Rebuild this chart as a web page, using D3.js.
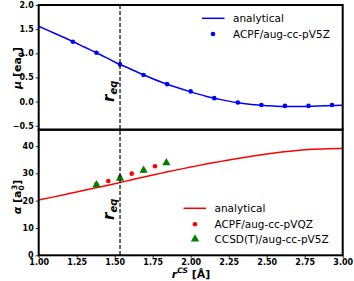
<!DOCTYPE html>
<html><head><meta charset="utf-8">
<script src="https://cdn.jsdelivr.net/npm/d3@7"></script>
<style>body{margin:0;background:#fff}svg{display:block}text{font-family:"DejaVu Sans",sans-serif}</style>
</head><body>
<svg id="c" width="354" height="281"></svg>
<script>
// ---- data ----
const rEq = 1.535;
const xTicks = [1.00, 1.25, 1.50, 1.75, 2.00, 2.25, 2.50, 2.75, 3.00];
const muTicks = [-0.5, 0.0, 0.5, 1.0, 1.5, 2.0];
const alphaTicks = [0, 10, 20, 30, 40];

const muLineR = [1.0,1.1,1.2,1.3,1.4,1.5,1.6,1.7,1.8,1.9,2.0,2.1,2.2,2.3,2.4,2.5,2.6,2.7,2.8,2.9,3.0];
const muLineV = [1.56,1.42,1.28,1.13,0.98,0.82,0.68,0.54,0.41,0.30,0.20,0.11,0.04,-0.02,-0.06,-0.085,-0.10,-0.10,-0.095,-0.085,-0.075];
const muPtsR = [1.225,1.38,1.535,1.69,1.845,2.0,2.155,2.31,2.465,2.62,2.775,2.93];
const muPtsV = [1.24,1.01,0.77,0.55,0.36,0.21,0.07,-0.02,-0.07,-0.09,-0.09,-0.07];

const alLineR = [1.0,1.1,1.2,1.3,1.4,1.5,1.6,1.7,1.8,1.9,2.0,2.1,2.2,2.3,2.4,2.5,2.6,2.7,2.8,2.9,3.0];
const alLineV = [20.3,21.4,22.6,23.8,25.0,26.2,27.5,28.8,30.0,31.2,32.3,33.4,34.4,35.4,36.3,37.1,37.8,38.4,38.8,39.0,39.1];
const acpfR = [1.38,1.458,1.535,1.612,1.69,1.765];
const acpfV = [26.0,27.2,28.6,29.9,31.1,32.6];
const ccsdR = [1.38,1.535,1.69,1.84];
const ccsdV = [25.8,28.2,31.1,33.9];

// ---- layout ----
const svg = d3.select("#c");
const L = 38.7, R = 342.7, T1 = 5, B1 = 129.7, T2 = 129.7, B2 = 255.3;
const x = d3.scaleLinear().domain([1,3]).range([L,R]);
const yMu = d3.scaleLinear().domain([-0.583,2.0]).range([B1,T1]);
const yAl = d3.scaleLinear().domain([0,46]).range([B2,T2]);

function styleAxis(g){
  g.select(".domain").remove();
  g.selectAll(".tick line").attr("stroke","#000").attr("stroke-width",0.8);
  g.selectAll(".tick text").attr("font-size","8px").attr("font-weight","bold").attr("fill","#000")
   .style("font-family","'DejaVu Sans',sans-serif");
}
const minus = d => d3.format(".1f")(d).replace("-","\u2212");

svg.append("g").attr("transform",`translate(${L},0)`)
  .call(d3.axisLeft(yMu).tickValues(muTicks).tickFormat(minus).tickSize(3).tickPadding(2)).call(styleAxis);
svg.append("g").attr("transform",`translate(${L},0)`)
  .call(d3.axisLeft(yAl).tickValues(alphaTicks).tickFormat(d3.format("d")).tickSize(3).tickPadding(2)).call(styleAxis);
svg.append("g").attr("transform",`translate(0,${B2})`)
  .call(d3.axisBottom(x).tickValues(xTicks).tickFormat(d3.format(".2f")).tickSize(3).tickPadding(1)).call(styleAxis);

// clip
const defs = svg.append("defs");
defs.append("clipPath").attr("id","c1").append("rect").attr("x",L).attr("y",T1).attr("width",R-L).attr("height",B1-T1);
defs.append("clipPath").attr("id","c2").append("rect").attr("x",L).attr("y",T2).attr("width",R-L).attr("height",B2-T2);

// top panel
const g1 = svg.append("g").attr("clip-path","url(#c1)");
g1.append("path").datum(muLineR.map((r,i)=>[r,muLineV[i]]))
  .attr("d", d3.line().x(d=>x(d[0])).y(d=>yMu(d[1])).curve(d3.curveMonotoneX))
  .attr("fill","none").attr("stroke","#0000ff").attr("stroke-width",1.5);
g1.selectAll("circle").data(muPtsR.map((r,i)=>[r,muPtsV[i]])).join("circle")
  .attr("cx",d=>x(d[0])).attr("cy",d=>yMu(d[1])).attr("r",2.3).attr("fill","#0000ff");

// bottom panel
const g2 = svg.append("g").attr("clip-path","url(#c2)");
g2.append("path").datum(alLineR.map((r,i)=>[r,alLineV[i]]))
  .attr("d", d3.line().x(d=>x(d[0])).y(d=>yAl(d[1])).curve(d3.curveMonotoneX))
  .attr("fill","none").attr("stroke","#ff0000").attr("stroke-width",1.5);
g2.selectAll("circle").data(acpfR.map((r,i)=>[r,acpfV[i]])).join("circle")
  .attr("cx",d=>x(d[0])).attr("cy",d=>yAl(d[1])).attr("r",2.3).attr("fill","#ff0000");
const tri = d3.symbol().type(d3.symbolTriangle).size(30);
g2.selectAll("path.tri").data(ccsdR.map((r,i)=>[r,ccsdV[i]])).join("path").attr("class","tri")
  .attr("d",tri).attr("transform",d=>`translate(${x(d[0])},${yAl(d[1])})`).attr("fill","#008000");

// dashed r_eq line
svg.append("line").attr("x1",x(rEq)).attr("x2",x(rEq)).attr("y1",T1).attr("y2",B2)
  .attr("stroke","#000").attr("stroke-width",1.2).attr("stroke-dasharray","4,2");

// frames
[[T1,B1],[T2,B2]].forEach(([t,b])=>{
  svg.append("rect").attr("x",L).attr("y",t).attr("width",R-L).attr("height",b-t)
    .attr("fill","none").attr("stroke","#000").attr("stroke-width",2);
});

// r_eq labels
function reqLabel(y0){
  const t = svg.append("text").attr("transform",`translate(114,${y0}) rotate(-90)`)
    .attr("font-size","15px").attr("font-weight","bold").attr("font-style","italic");
  t.append("tspan").text("r");
  t.append("tspan").attr("font-size","10px").attr("dy",3).text("eq");
}
reqLabel(102);
reqLabel(220);

// axis labels
const yl1 = svg.append("text").attr("transform",`translate(21,68) rotate(-90)`).attr("text-anchor","middle")
  .attr("font-size","11px").attr("font-weight","bold");
yl1.append("tspan").attr("font-style","italic").text("\u03bc");
yl1.append("tspan").text(" [ea");
yl1.append("tspan").attr("font-size","7.5px").attr("dy",2.5).text("0");
yl1.append("tspan").attr("dy",-2.5).text("]");

const yl2 = svg.append("text").attr("transform",`translate(21,197) rotate(-90)`).attr("text-anchor","middle")
  .attr("font-size","11px").attr("font-weight","bold");
yl2.append("tspan").attr("font-style","italic").text("\u03b1");
yl2.append("tspan").text(" [a");
yl2.append("tspan").attr("font-size","7.5px").attr("dy",2.5).text("0");
yl2.append("tspan").attr("font-size","7.5px").attr("dx",-4.6).attr("dy",-7).text("3");
yl2.append("tspan").attr("dy",4.5).text("]");

const xl = svg.append("text").attr("x",191).attr("y",277.5).attr("text-anchor","middle")
  .attr("font-size","11px").attr("font-weight","bold");
xl.append("tspan").attr("font-style","italic").text("r");
xl.append("tspan").attr("font-style","italic").attr("font-size","7.5px").attr("dy",-4.5).text("CS");
xl.append("tspan").attr("dy",4.5).text(" [\u00c5]");

// legends
function legText(xp,yp,s){ svg.append("text").attr("x",xp).attr("y",yp).attr("font-size","10.5px").attr("fill","#000").text(s); }
const legLineTopV = ["analytical","ACPF/aug-cc-pV5Z"];
svg.append("line").attr("x1",202).attr("x2",224.5).attr("y1",18.3).attr("y2",18.3).attr("stroke","#0000ff").attr("stroke-width",1.5);
svg.append("circle").attr("cx",213).attr("cy",34).attr("r",2.3).attr("fill","#0000ff");
legText(233,22,legLineTopV[0]);
legText(233,38,legLineTopV[1]);

const legBot = ["analytical","ACPF/aug-cc-pVQZ","CCSD(T)/aug-cc-pV5Z"];
svg.append("line").attr("x1",183.5).attr("x2",206).attr("y1",208.3).attr("y2",208.3).attr("stroke","#ff0000").attr("stroke-width",1.5);
svg.append("circle").attr("cx",195).attr("cy",224.3).attr("r",2.3).attr("fill","#ff0000");
svg.append("path").attr("d",tri).attr("transform","translate(195,239)").attr("fill","#008000");
legText(214.5,212,legBot[0]);
legText(214.5,228,legBot[1]);
legText(214.5,243,legBot[2]);
</script>
</body></html>
